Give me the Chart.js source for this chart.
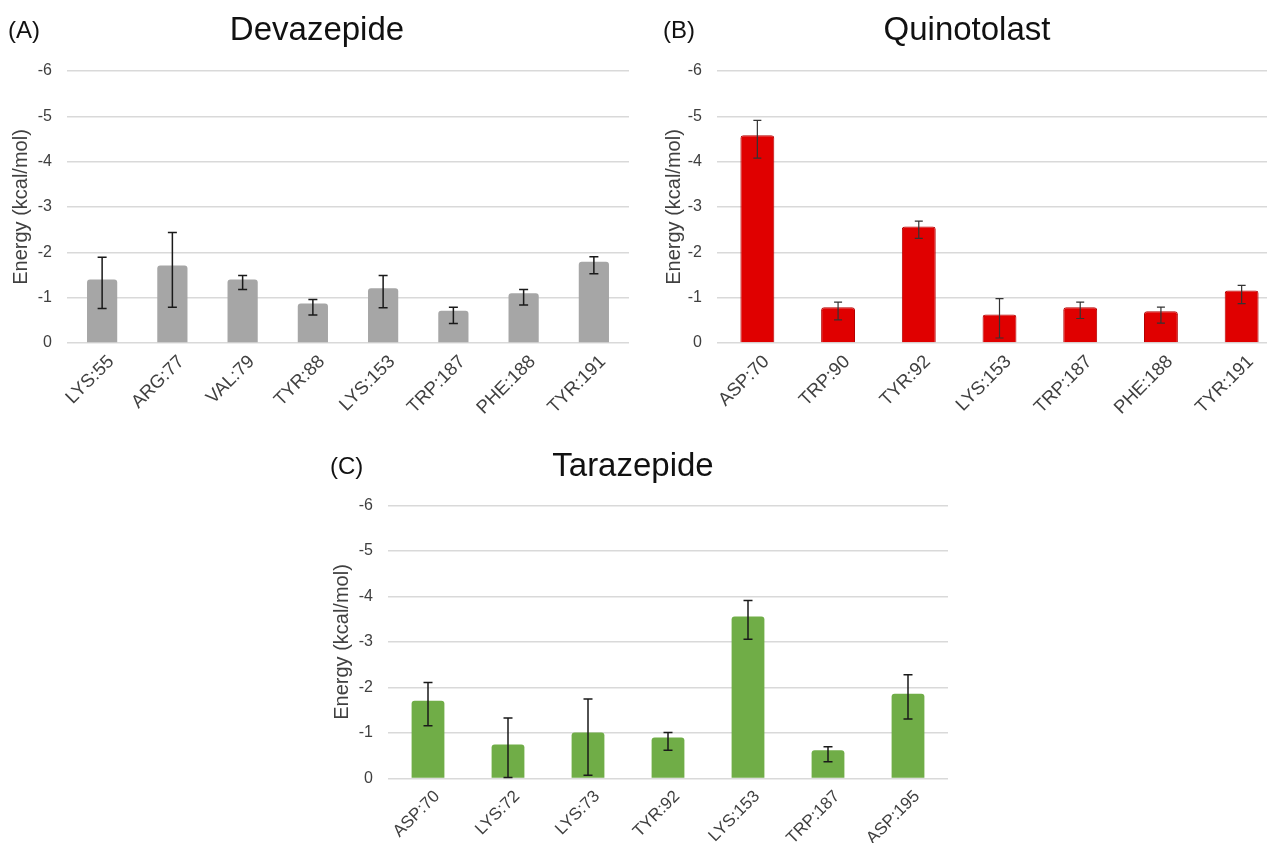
<!DOCTYPE html>
<html>
<head>
<meta charset="utf-8">
<script src="https://cdn.jsdelivr.net/npm/chart.js@4.4.1/dist/chart.umd.min.js"></script>
<style>
  html, body { margin: 0; padding: 0; background: #ffffff; overflow: hidden; }
  body { width: 1267px; height: 843px; position: relative; }
  .panel { position: absolute; }
  canvas { display: block; }
</style>
</head>
<body>
<div class="panel" style="left:0px;top:0px;width:640px;height:430px;"><canvas id="chartA" width="640" height="430"></canvas></div>
<div class="panel" style="left:640px;top:0px;width:660px;height:430px;"><canvas id="chartB" width="660" height="430"></canvas></div>
<div class="panel" style="left:320px;top:430px;width:640px;height:413px;"><canvas id="chartC" width="640" height="413"></canvas></div>
<script>
// Interaction energies per residue (kcal/mol) with error bar extents
const devazepideResidues = ['LYS:55', 'ARG:77', 'VAL:79', 'TYR:88', 'LYS:153', 'TRP:187', 'PHE:188', 'TYR:191'];
const devazepideEnergy   = [-1.40, -1.71, -1.40, -0.87, -1.21, -0.71, -1.10, -1.79];
const devazepideErrUp    = [0.49, 0.73, 0.09, 0.09, 0.28, 0.08, 0.08, 0.11];
const devazepideErrDown  = [0.64, 0.92, 0.22, 0.25, 0.43, 0.28, 0.26, 0.26];

const quinotolastResidues = ['ASP:70', 'TRP:90', 'TYR:92', 'LYS:153', 'TRP:187', 'PHE:188', 'TYR:191'];
const quinotolastEnergy   = [-4.58, -0.79, -2.57, -0.63, -0.79, -0.70, -1.16];
const quinotolastErrUp    = [0.33, 0.11, 0.12, 0.35, 0.11, 0.09, 0.11];
const quinotolastErrDown  = [0.50, 0.28, 0.26, 0.52, 0.25, 0.26, 0.29];

const tarazepideResidues = ['ASP:70', 'LYS:72', 'LYS:73', 'TYR:92', 'LYS:153', 'TRP:187', 'ASP:195'];
const tarazepideEnergy   = [-1.71, -0.75, -1.01, -0.90, -3.56, -0.62, -1.86];
const tarazepideErrUp    = [0.40, 0.58, 0.74, 0.11, 0.35, 0.08, 0.42];
const tarazepideErrDown  = [0.55, 0.73, 0.94, 0.28, 0.50, 0.25, 0.55];

const energyTicks = [-6, -5, -4, -3, -2, -1, 0];
const axisTitle = 'Energy (kcal/mol)';

const FONT = "'Liberation Sans', Arial, Helvetica, sans-serif";

function makeErrorBars(up, down, style) {
  return {
    id: 'errorBars',
    afterDatasetsDraw(chart) {
      const { ctx } = chart;
      const y = chart.scales.y;
      const meta = chart.getDatasetMeta(0);
      const values = chart.data.datasets[0].data;
      ctx.save();
      ctx.strokeStyle = style.color;
      ctx.lineWidth = style.width;
      meta.data.forEach((bar, i) => {
        const v = values[i];
        const yTop = y.getPixelForValue(v - up[i]);
        const yBot = y.getPixelForValue(v + down[i]);
        const x = bar.x;
        ctx.beginPath();
        ctx.moveTo(x, yTop); ctx.lineTo(x, yBot);
        ctx.moveTo(x - style.cap, yTop); ctx.lineTo(x + style.cap, yTop);
        ctx.moveTo(x - style.cap, yBot); ctx.lineTo(x + style.cap, yBot);
        ctx.stroke();
      });
      ctx.restore();
    }
  };
}

function makeHeading(letter, title, pos) {
  return {
    id: 'panelHeading',
    afterDraw(chart) {
      const { ctx } = chart;
      ctx.save();
      ctx.fillStyle = '#111111';
      ctx.textBaseline = 'middle';
      ctx.font = '24px ' + FONT;
      ctx.textAlign = 'left';
      ctx.fillText(letter, pos.letterX, pos.y);
      ctx.font = '33px ' + FONT;
      ctx.textAlign = 'center';
      ctx.fillText(title, pos.titleX, pos.y);
      ctx.restore();
    }
  };
}

function buildChart(id, cfg) {
  const canvas = document.getElementById(id);
  return new Chart(canvas, {
    type: 'bar',
    data: {
      labels: cfg.labels,
      datasets: [{
        data: cfg.values,
        backgroundColor: cfg.fill,
        borderColor: cfg.border,
        borderWidth: cfg.borderWidth,
        borderSkipped: 'start',
        borderRadius: 3,
        barPercentage: cfg.barPct,
        categoryPercentage: 1.0
      }]
    },
    options: {
      responsive: false,
      animation: false,
      devicePixelRatio: 1,
      layout: { padding: { left: 0, right: cfg.padRight, top: cfg.padTop, bottom: 0 } },
      plugins: { legend: { display: false }, tooltip: { enabled: false }, title: { display: false } },
      scales: {
        x: {
          grid: { display: false },
          border: { display: false },
          ticks: {
            autoSkip: false,
            minRotation: 45,
            maxRotation: 45,
            padding: 0,
            labelOffset: 9,
            color: '#404040',
            font: { family: FONT, size: cfg.labelSize }
          },
          afterFit(scale) {
            scale.height = cfg.xHeight;
            scale.paddingLeft = 0;
            scale.paddingRight = 0;
          }
        },
        y: {
          reverse: true,
          min: energyTicks[0],
          max: energyTicks[energyTicks.length - 1],
          afterBuildTicks(scale) {
            scale.ticks = energyTicks.map(v => ({ value: v }));
          },
          grid: { color: '#d9d9d9', lineWidth: 1.4, drawTicks: false },
          border: { display: false },
          ticks: {
            padding: 15,
            color: '#404040',
            font: { family: FONT, size: 16 },
            callback: v => String(v)
          },
          title: {
            display: true,
            text: axisTitle,
            color: '#404040',
            font: { family: FONT, size: 20 },
            padding: { top: cfg.titlePad, bottom: 0 }
          },
          afterFit(scale) {
            scale.width = cfg.yWidth;
            scale.paddingTop = 0;
            scale.paddingBottom = 0;
          }
        }
      }
    },
    plugins: [
      makeErrorBars(cfg.up, cfg.down, cfg.err),
      makeHeading(cfg.letter, cfg.title, cfg.heading)
    ]
  });
}

buildChart('chartA', {
  labels: devazepideResidues, values: devazepideEnergy,
  up: devazepideErrUp, down: devazepideErrDown,
  fill: '#a6a6a6', border: '#a6a6a6', borderWidth: 0, barPct: 0.43,
  err: { color: '#1a1a1a', width: 1.5, cap: 4.5 },
  letter: '(A)', title: 'Devazepide', heading: { letterX: 8, titleX: 317, y: 31 },
  padTop: 71, padRight: 11, yWidth: 67, xHeight: 87, titlePad: 9, labelSize: 18.5
});

buildChart('chartB', {
  labels: quinotolastResidues, values: quinotolastEnergy,
  up: quinotolastErrUp, down: quinotolastErrDown,
  fill: '#e00000', border: '#b50000', borderWidth: 1, barPct: 0.42,
  err: { color: '#333333', width: 1.2, cap: 4 },
  letter: '(B)', title: 'Quinotolast', heading: { letterX: 23, titleX: 327, y: 31 },
  padTop: 71, padRight: 18, yWidth: 77, xHeight: 87, titlePad: 22, labelSize: 18.5
});

buildChart('chartC', {
  labels: tarazepideResidues, values: tarazepideEnergy,
  up: tarazepideErrUp, down: tarazepideErrDown,
  fill: '#70ad47', border: '#70ad47', borderWidth: 0, barPct: 0.41,
  err: { color: '#1a1a1a', width: 1.5, cap: 4.5 },
  letter: '(C)', title: 'Tarazepide', heading: { letterX: 10, titleX: 313, y: 37 },
  padTop: 75.5, padRight: 12, yWidth: 68, xHeight: 64.5, titlePad: 10, labelSize: 17
});
</script>
</body>
</html>
